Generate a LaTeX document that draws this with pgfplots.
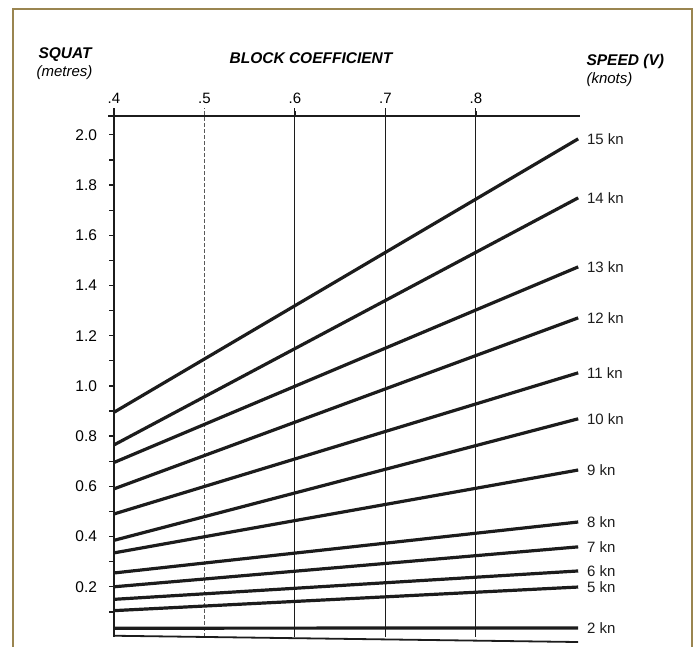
\documentclass[border=0pt]{standalone}
\usepackage{pgfplots}
\pgfplotsset{compat=1.18}
\usepackage{fontspec}
\setmainfont{Liberation Sans}
\definecolor{frame}{HTML}{9A8550}
\definecolor{ink}{HTML}{1C1C1C}
\begin{document}
\begin{tikzpicture}
\useasboundingbox (-114pt,-10pt) rectangle (582pt,637pt);
\draw[frame, line width=2.5pt] (-101pt,-40pt) -- (-101pt,628pt) -- (578pt,628pt) -- (578pt,-40pt);
\begin{axis}[
  at={(0,0)}, anchor=south west,
  scale only axis, width=466pt, height=521pt,
  xmin=0.4, xmax=0.915, ymin=0, ymax=2.075,
  axis x line=top, axis y line=left,
  x axis line style={-, line width=1.8pt, ink},
  y axis line style={-, line width=2pt, ink},
  xtick={0.4,0.5,0.6,0.7,0.8},
  xticklabels={.4,.5,.6,.7,.8},
  ytick={0.2,0.4,...,2.01},
  yticklabels={0.2,0.4,0.6,0.8,1.0,1.2,1.4,1.6,1.8,2.0},
  minor ytick={0.1,0.3,...,1.95},
  tick align=outside,
  major tick length=4.5pt, minor tick length=4.5pt,
  ytick style={ink, line width=1.3pt},
  xtick style={ink, line width=1.3pt},
  minor tick style={ink, line width=1.3pt},
  /pgf/number format/assume math mode=true,
  xticklabel style={font=\fontsize{15}{17}\selectfont, yshift=4pt},
  yticklabel style={font=\fontsize{15.5}{17}\selectfont, xshift=-9pt},
  clip=false,
  every axis plot/.append style={ink},
]
% grid lines
\addplot[line width=0.8pt, dashed, dash pattern=on 4pt off 2pt, gray!70!black] coordinates {(0.5,0) (0.5,2.107)};
\addplot[line width=1pt] coordinates {(0.6,0) (0.6,2.107)};
\addplot[line width=1.2pt] coordinates {(0.7,0) (0.7,2.107)};
\addplot[line width=1pt] coordinates {(0.8,0) (0.8,2.107)};
% axis extensions
\addplot[line width=2pt] coordinates {(0.4,2.07) (0.4,2.107)};
\addplot[line width=1.8pt] coordinates {(0.3934,2.075) (0.4,2.075)};
% bottom line
\addplot[line width=1.8pt] coordinates {(0.4,0.005) (0.913,-0.02)};
% speed lines
\pgfplotsset{kn/.style={line width=3.2pt}}
\def\lab#1{node[pos=1, anchor=west, xshift=4pt, font=\fontsize{15}{17}\selectfont]{#1}}
\addplot[kn] coordinates {(0.4,0.895) (0.913,1.984)} \lab{15 kn};
\addplot[kn] coordinates {(0.4,0.765) (0.913,1.749)} \lab{14 kn};
\addplot[kn] coordinates {(0.4,0.695) (0.913,1.474)} \lab{13 kn};
\addplot[kn] coordinates {(0.4,0.59) (0.913,1.271)} \lab{12 kn};
\addplot[kn] coordinates {(0.4,0.49) (0.913,1.052)} \lab{11 kn};
\addplot[kn] coordinates {(0.4,0.385) (0.913,0.869)} \lab{10 kn};
\addplot[kn] coordinates {(0.4,0.335) (0.913,0.665)} \lab{9 kn};
\addplot[kn] coordinates {(0.4,0.255) (0.913,0.458)} \lab{8 kn};
\addplot[kn] coordinates {(0.4,0.2) (0.913,0.359)} \lab{7 kn};
\addplot[kn] coordinates {(0.4,0.15) (0.913,0.263)} \lab{6 kn};
\addplot[kn] coordinates {(0.4,0.105) (0.913,0.199)} \lab{5 kn};
\addplot[kn] coordinates {(0.4,0.035) (0.913,0.036)} \lab{2 kn};
\end{axis}
\node[anchor=west, font=\fontsize{15.5}{17}\selectfont\bfseries\itshape] at (-79pt,582pt) {SQUAT};
\node[anchor=west, font=\fontsize{15}{17}\selectfont\itshape] at (-81pt,564pt) {(metres)};
\node[font=\fontsize{15.5}{17}\selectfont\bfseries\itshape] at (197pt,579pt) {BLOCK COEFFICIENT};
\node[anchor=west, font=\fontsize{15.5}{17}\selectfont\bfseries\itshape] at (469pt,575pt) {SPEED (V)};
\node[anchor=west, font=\fontsize{15}{17}\selectfont\itshape] at (469pt,557pt) {(knots)};
\end{tikzpicture}
\end{document}
